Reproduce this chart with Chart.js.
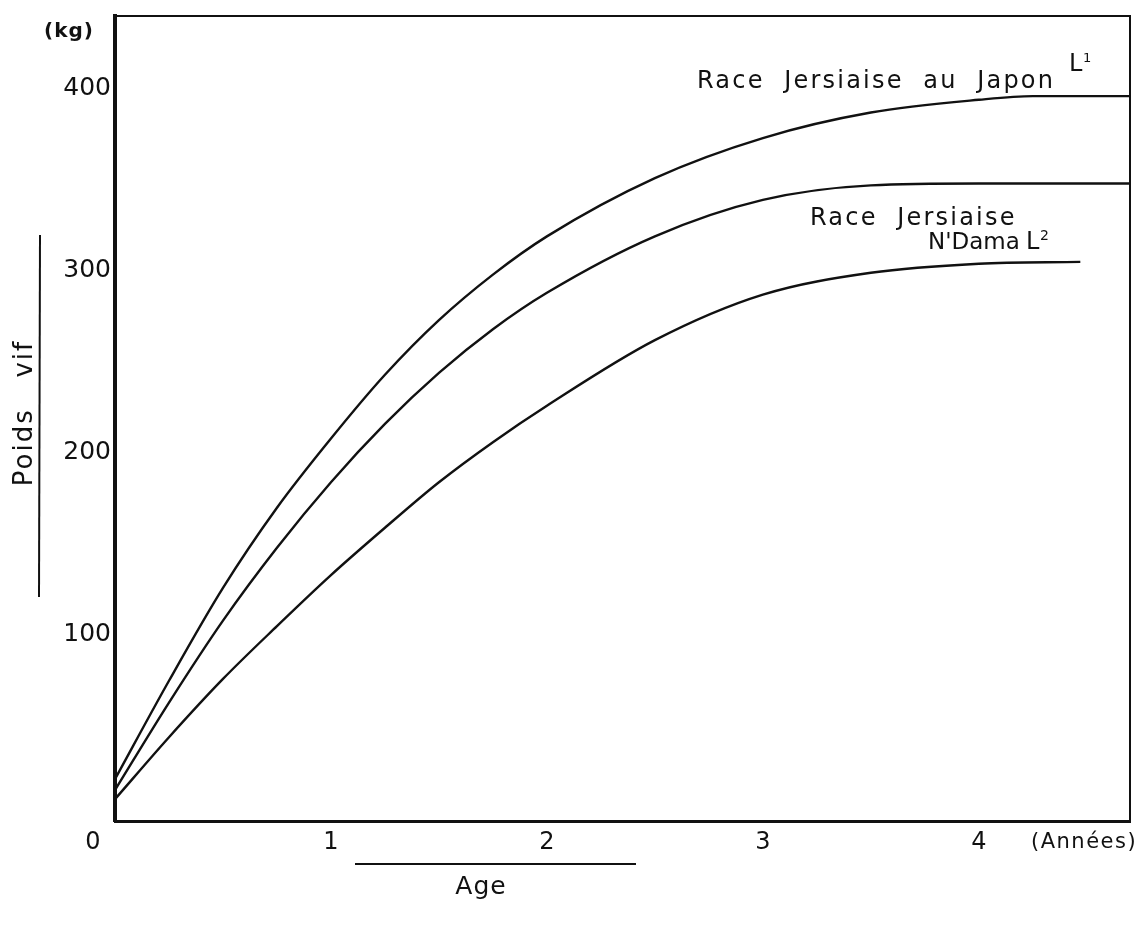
<!DOCTYPE html>
<html>
<head>
<meta charset="utf-8">
<script src="https://cdn.jsdelivr.net/npm/chart.js@4.4.1/dist/chart.umd.min.js"></script>
<style>
    html, body { margin: 0; padding: 0; background: #fff; }
</style>
</head>
<body>
<canvas id="growthChart" width="1141" height="928"></canvas>
<script>
// ---- DATA (poids vif en kg selon l'âge en années) ----
const AGES = [0, 0.25, 0.5, 0.75, 1, 1.25, 1.5, 1.75, 2, 2.5, 3, 3.5, 4, 4.25, 4.7];
const JERSIAISE_JAPON = [23, 77, 128, 172, 210, 245, 275, 300, 321, 353, 375, 389, 396, 398, 398];
const JERSIAISE = [17, 65, 110, 150, 186, 218, 246, 270, 290, 321, 341, 349, 350, 350, 350];

const AGES_NDAMA = [0, 0.25, 0.5, 0.75, 1, 1.25, 1.5, 1.75, 2, 2.5, 3, 3.5, 4, 4.47];
const NDAMA = [12, 46, 78, 107, 135, 161, 186, 208, 228, 264, 289, 301, 306, 307];

const X_TICKS = [0, 1, 2, 3, 4];
const Y_TICKS = [100, 200, 300, 400];

const INK = '#111';
const FONT = "'DejaVu Sans', sans-serif";

function toPoints(xs, ys) {
    return xs.map((x, i) => ({ x: x, y: ys[i] }));
}

function lineSet(label, data) {
    return {
        label,
        data,
        borderColor: INK,
        borderWidth: 2.4,
        pointRadius: 0,
        fill: false,
        cubicInterpolationMode: 'monotone'
    };
}

function drawText(ctx, text, x, y, size, opts = {}) {
    ctx.save();
    ctx.font = (opts.weight || 'normal') + ' ' + size + 'px ' + FONT;
    ctx.fillStyle = INK;
    ctx.textAlign = opts.align || 'left';
    ctx.textBaseline = 'middle';
    ctx.letterSpacing = (opts.spacing || 0) + 'px';
    ctx.fillText(text, x, y);
    ctx.restore();
}

// labels, titles and curve names
const labelsPlugin = {
    id: 'plotterLabels',
    afterDraw(chart) {
        const ctx = chart.ctx;
        const xs = chart.scales.x;
        const ys = chart.scales.y;
        const left = chart.chartArea.left;
        const bottom = chart.chartArea.bottom;

        // tick labels
        X_TICKS.forEach(v => {
            const px = v === 0 ? left - 22 : xs.getPixelForValue(v);
            drawText(ctx, String(v), px, bottom + 22, 24, { align: 'center' });
        });
        Y_TICKS.forEach(v => {
            drawText(ctx, String(v), left - 4, ys.getPixelForValue(v) - 4, 25, { align: 'right' });
        });

        drawText(ctx, '(kg)', 44, 32, 20, { weight: 'bold', spacing: 1 });
        drawText(ctx, '(Années)', 1031, bottom + 22, 21, { spacing: 1.5 });

        // y title, rotated, with its bar
        ctx.save();
        ctx.translate(25, 413);
        ctx.rotate(-Math.PI / 2);
        drawText(ctx, 'Poids   vif', 0, 0, 26, { align: 'center', spacing: 2 });
        ctx.restore();
        ctx.save();
        ctx.strokeStyle = INK;
        ctx.lineWidth = 2;
        ctx.beginPath();
        ctx.moveTo(40, 235);
        ctx.lineTo(39, 597);
        ctx.stroke();
        // x title bar
        ctx.beginPath();
        ctx.moveTo(355, 864);
        ctx.lineTo(636, 864);
        ctx.stroke();
        ctx.restore();
        drawText(ctx, 'Age', 481, 887, 25, { align: 'center', spacing: 1 });

        // curve names
        drawText(ctx, 'Race  Jersiaise  au  Japon', 697, 82, 24, { spacing: 2.2 });
        drawText(ctx, 'L', 1069, 65, 24);
        drawText(ctx, '1', 1083, 59, 13);
        drawText(ctx, 'Race  Jersiaise', 810, 219, 24, { spacing: 2.2 });
        drawText(ctx, "N'Dama", 928, 243, 23);
        drawText(ctx, 'L', 1026, 243, 24);
        drawText(ctx, '2', 1040, 236, 14);
    }
};

const hiddenTicks = { display: false };
const noGrid = { display: false, drawTicks: false };

new Chart(document.getElementById('growthChart'), {
    type: 'line',
    data: {
        datasets: [
            lineSet('Race Jersiaise au Japon', toPoints(AGES, JERSIAISE_JAPON)),
            lineSet('Race Jersiaise', toPoints(AGES, JERSIAISE)),
            lineSet("N'Dama", toPoints(AGES_NDAMA, NDAMA))
        ]
    },
    options: {
        responsive: false,
        animation: false,
        layout: { padding: { left: 115, right: 11, top: 16, bottom: 107 } },
        plugins: {
            legend: { display: false },
            tooltip: { enabled: false }
        },
        scales: {
            x: {
                type: 'linear',
                min: 0,
                max: 4.7,
                ticks: hiddenTicks,
                grid: noGrid,
                border: { display: true, color: INK, width: 3 }
            },
            y: {
                min: 0,
                max: 442,
                ticks: hiddenTicks,
                grid: noGrid,
                border: { display: true, color: INK, width: 4 }
            },
            x2: {
                type: 'linear',
                position: 'top',
                min: 0,
                max: 4.7,
                ticks: hiddenTicks,
                grid: noGrid,
                border: { display: true, color: INK, width: 2 }
            },
            y2: {
                position: 'right',
                min: 0,
                max: 442,
                ticks: hiddenTicks,
                grid: noGrid,
                border: { display: true, color: INK, width: 2 }
            }
        }
    },
    plugins: [labelsPlugin]
});
</script>
</body>
</html>
